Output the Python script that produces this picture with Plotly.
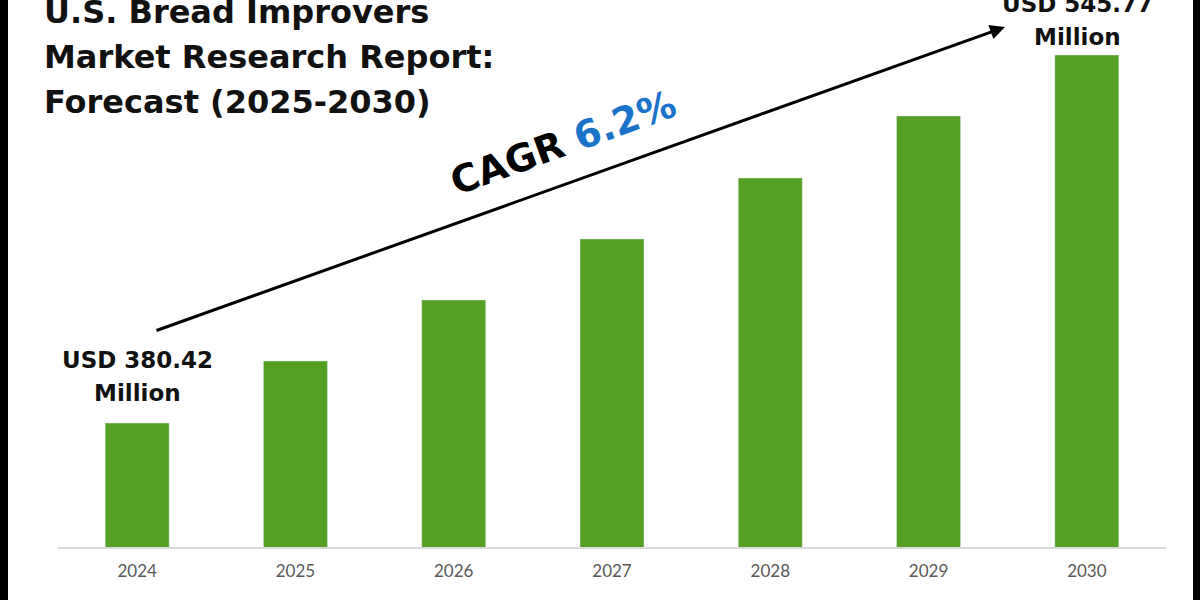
import plotly.graph_objects as go

years = ["2024", "2025", "2026", "2027", "2028", "2029", "2030"]
market_usd_mn = [380.42, 408.3, 435.7, 463.1, 490.5, 518.4, 545.77]
title_lines = ["U.S. Bread Improvers", "Market Research Report:", "Forecast (2025-2030)"]
start_label = ["USD 380.42", "Million"]
end_label = ["USD 545.77", "Million"]
cagr_text = "CAGR"
cagr_value = "6.2%"

W, H = 1200, 600
ML, MR, MT, MB = 58, 34, 50, 53
PW, PH = W - ML - MR, H - MT - MB


def px_x(p):
    return (p - ML) / PW


def px_y(p):
    return (H - MB - p) / PH


GREEN = "#55A023"
BLUE = "#1A73C8"
FONT = "DejaVu Sans"

fig = go.Figure(go.Bar(x=years, y=market_usd_mn, marker_color=GREEN, width=0.405,
                       hoverinfo="x+y"))

ann = []
for i, line in enumerate(title_lines):
    ann.append(dict(x=px_x(42), y=px_y(12 + i * 45), xref="paper", yref="paper",
                    xanchor="left", yanchor="middle", showarrow=False,
                    text=f"<b>{line}</b>", font=dict(family=FONT, size=32, color="#111")))

for i, line in enumerate(start_label):
    ann.append(dict(x=px_x(137), y=px_y(360 + i * 33), xref="paper", yref="paper",
                    xanchor="center", yanchor="middle", showarrow=False,
                    text=f"<b>{line}</b>", font=dict(family=FONT, size=23, color="#111")))
for i, line in enumerate(end_label):
    ann.append(dict(x=px_x(1077), y=px_y(4 + i * 33), xref="paper", yref="paper",
                    xanchor="center", yanchor="middle", showarrow=False,
                    text=f"<b>{line}</b>", font=dict(family=FONT, size=23, color="#111")))

# arrow
ann.append(dict(x=px_x(1005), y=px_y(27), xref="paper", yref="paper",
                ax=-850, ay=304, axref="pixel", ayref="pixel", showarrow=True,
                arrowhead=2, arrowsize=1, arrowwidth=3, arrowcolor="#000", text=""))

# CAGR text
ann.append(dict(x=px_x(563), y=px_y(143), xref="paper", yref="paper",
                xanchor="center", yanchor="middle", showarrow=False, textangle=-20,
                text=f"<b>{cagr_text} <span style='color:{BLUE}'>{cagr_value}</span></b>",
                font=dict(family=FONT, size=38, color="#000")))

# dark frame edges at the left and right of the picture
shapes = [
    dict(type="line", xref="paper", yref="paper", x0=px_x(4), x1=px_x(4), y0=px_y(600), y1=px_y(0),
         line=dict(color="#000", width=8), layer="above"),
    dict(type="line", xref="paper", yref="paper", x0=px_x(1196.5), x1=px_x(1196.5), y0=px_y(600),
         y1=px_y(0), line=dict(color="#000", width=7), layer="above"),
]

fig.update_layout(
    width=W, height=H,
    margin=dict(l=ML, r=MR, t=MT, b=MB),
    plot_bgcolor="white", paper_bgcolor="white",
    showlegend=False,
    bargap=0.6,
    xaxis=dict(type="category", range=[-0.5, len(years) - 0.5], showline=True,
               linecolor="#D9D9D9", linewidth=2, showgrid=False,
               ticks="", tickfont=dict(family="Lato", size=17, color="#595959"),
               ticklabelstandoff=8, fixedrange=True),
    yaxis=dict(visible=False, range=[324.7, 548.0], showgrid=False, fixedrange=True),
    annotations=ann,
    shapes=shapes,
)

fig.write_html("out.html", config={"displayModeBar": False})

with open("out.html", encoding="utf-8") as f:
    html = f.read()
html = html.replace("<body>", "<body style=\"margin:0\">", 1)
with open("out.html", "w", encoding="utf-8") as f:
    f.write(html)
